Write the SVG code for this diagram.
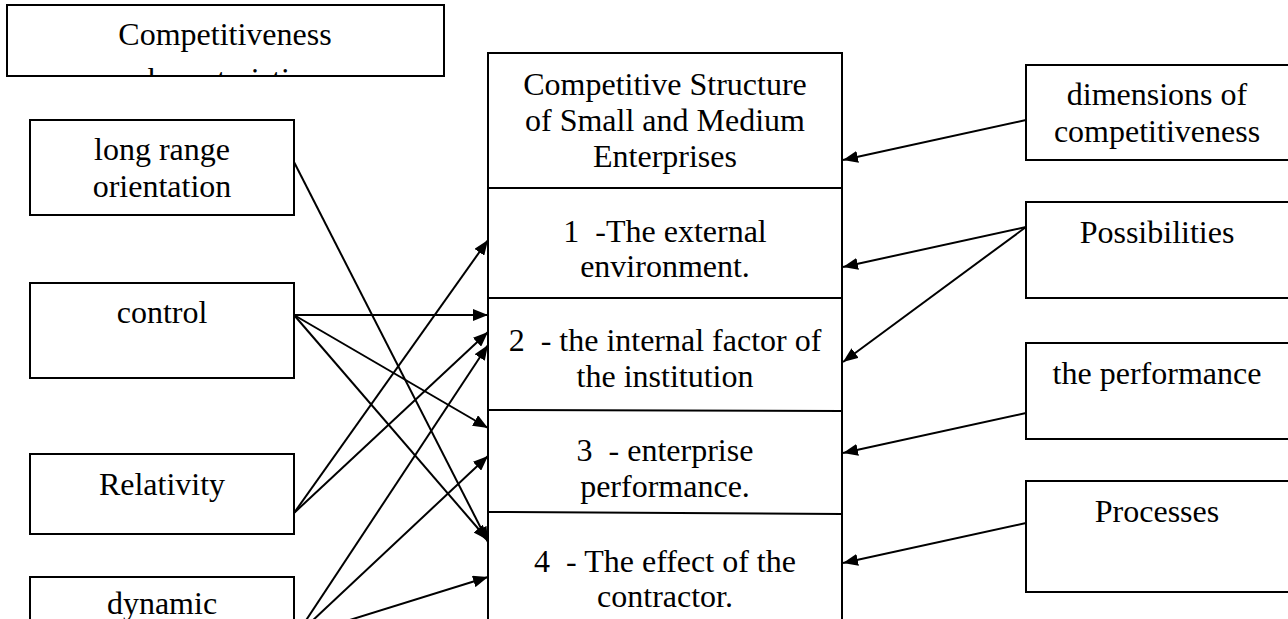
<svg xmlns="http://www.w3.org/2000/svg" width="1288" height="619" viewBox="0 0 1288 619">
<style>
.box{fill:#fff;stroke:#000;stroke-width:2}
.t{font-family:"Liberation Serif","Times New Roman",serif;font-size:32px;fill:#000;text-anchor:middle;white-space:pre}
.c{fill:none;stroke:#000;stroke-width:2;marker-end:url(#ah)}
.div{stroke:#000;stroke-width:2}
</style>
<defs>
<marker id="ah" markerUnits="userSpaceOnUse" markerWidth="16" markerHeight="12" refX="15" refY="6" orient="auto">
<path d="M0,0 L15,6 L0,12 z" fill="#000"/>
</marker>
<clipPath id="clipTop"><rect x="7" y="5" width="437" height="70"/></clipPath>
</defs>
<rect width="1288" height="619" fill="#fff"/>

<g id="competitiveness-characteristics">
<rect class="box" x="7" y="5" width="437" height="71"/>
<g clip-path="url(#clipTop)">
<text class="t" x="225" y="45">Competitiveness</text>
<text class="t" x="225" y="90">characteristics</text>
</g>
</g>

<g id="long-range-orientation">
<rect class="box" x="30" y="120" width="264" height="95"/>
<text class="t" x="162" y="160">long range</text>
<text class="t" x="162" y="197">orientation</text>
</g>

<g id="control">
<rect class="box" x="30" y="283" width="264" height="95"/>
<text class="t" x="162" y="323">control</text>
</g>

<g id="relativity">
<rect class="box" x="30" y="454" width="264" height="80"/>
<text class="t" x="162" y="495">Relativity</text>
</g>

<g id="dynamic">
<rect class="box" x="30" y="577" width="264" height="80"/>
<text class="t" x="162" y="614">dynamic</text>
</g>

<g id="central-structure">
<rect class="box" x="488" y="53" width="354" height="600"/>
<line class="div" x1="488" y1="188" x2="842" y2="188"/>
<line class="div" x1="488" y1="298" x2="842" y2="298"/>
<line class="div" x1="488" y1="410" x2="842" y2="411"/>
<line class="div" x1="488" y1="512" x2="842" y2="514"/>
<text class="t" x="665" y="95">Competitive Structure</text>
<text class="t" x="665" y="131">of Small and Medium</text>
<text class="t" x="665" y="167">Enterprises</text>
<text class="t" x="665" y="242">1  -The external</text>
<text class="t" x="665" y="277">environment.</text>
<text class="t" x="665" y="351">2  - the internal factor of</text>
<text class="t" x="665" y="387">the institution</text>
<text class="t" x="665" y="461">3  - enterprise</text>
<text class="t" x="665" y="497">performance.</text>
<text class="t" x="665" y="572">4  - The effect of the</text>
<text class="t" x="665" y="607">contractor.</text>
</g>

<g id="dimensions-of-competitiveness">
<rect class="box" x="1026" y="65" width="270" height="95"/>
<text class="t" x="1157" y="105">dimensions of</text>
<text class="t" x="1157" y="142">competitiveness</text>
</g>

<g id="possibilities">
<rect class="box" x="1026" y="202" width="270" height="96"/>
<text class="t" x="1157" y="243">Possibilities</text>
</g>

<g id="the-performance">
<rect class="box" x="1026" y="343" width="270" height="96"/>
<text class="t" x="1157" y="384">the performance</text>
</g>

<g id="processes">
<rect class="box" x="1026" y="481" width="270" height="111"/>
<text class="t" x="1157" y="522">Processes</text>
</g>

<g id="connectors">
<line class="c" x1="294" y1="162" x2="488" y2="542"/>
<line class="c" x1="294" y1="315" x2="488" y2="315"/>
<line class="c" x1="294" y1="315" x2="488" y2="428"/>
<line class="c" x1="294" y1="315" x2="488" y2="540"/>
<line class="c" x1="294" y1="513" x2="488" y2="240"/>
<line class="c" x1="294" y1="513" x2="488" y2="332"/>
<line class="c" x1="295" y1="637" x2="488" y2="345"/>
<line class="c" x1="295" y1="637" x2="488" y2="456"/>
<line class="c" x1="295" y1="637" x2="488" y2="577"/>
<line class="c" x1="1026" y1="120" x2="843" y2="160"/>
<line class="c" x1="1026" y1="227" x2="843" y2="267"/>
<line class="c" x1="1026" y1="227" x2="843" y2="362"/>
<line class="c" x1="1026" y1="413" x2="843" y2="453"/>
<line class="c" x1="1026" y1="523" x2="843" y2="563"/>
</g>
</svg>
